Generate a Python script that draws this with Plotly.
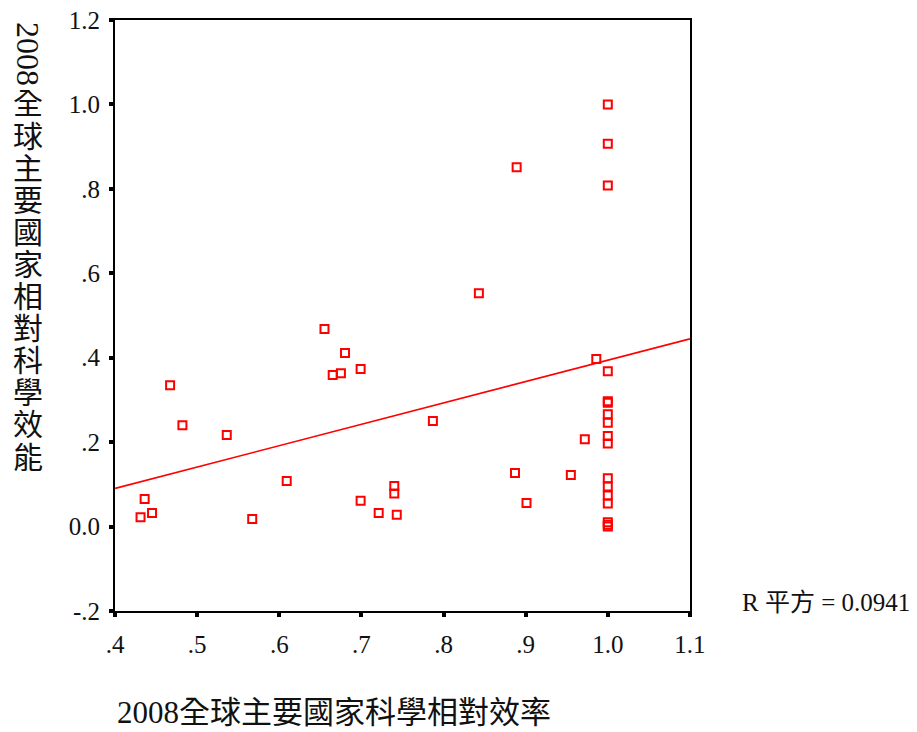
import plotly.graph_objects as go

# Relative science efficiency (x) vs. relative science effectiveness (y), 2008
efficiency = [
    0.431, 0.436, 0.445, 0.467, 0.482, 0.536, 0.567, 0.609, 0.655, 0.665,
    0.675, 0.680, 0.699, 0.699, 0.721, 0.740, 0.740, 0.743, 0.787, 0.843,
    0.887, 0.889, 0.901, 0.955, 0.972, 0.986,
    1.0, 1.0, 1.0, 1.0, 1.0, 1.0, 1.0, 1.0, 1.0, 1.0,
    1.0, 1.0, 1.0, 1.0, 1.0, 1.0, 1.0,
]
effectiveness = [
    0.022, 0.065, 0.032, 0.335, 0.240, 0.217, 0.018, 0.108, 0.468, 0.359,
    0.363, 0.411, 0.373, 0.061, 0.032, 0.096, 0.078, 0.028, 0.250, 0.553,
    0.127, 0.851, 0.056, 0.122, 0.207, 0.397,
    1.000, 0.907, 0.808, 0.368, 0.297, 0.293, 0.266, 0.246, 0.2145, 0.197,
    0.1145, 0.095, 0.0735, 0.0546, 0.010, 0.004, 0.000,
]

# Linear fit y = intercept + slope * x
fit_intercept = -0.112
fit_slope = 0.506
r_squared = 0.0941

x_ticks = [0.4, 0.5, 0.6, 0.7, 0.8, 0.9, 1.0, 1.1]
x_tick_text = [".4", ".5", ".6", ".7", ".8", ".9", "1.0", "1.1"]
y_ticks = [-0.2, 0.0, 0.2, 0.4, 0.6, 0.8, 1.0, 1.2]
y_tick_text = ["-.2", "0.0", ".2", ".4", ".6", ".8", "1.0", "1.2"]

x_title = "2008全球主要國家科學相對效率"
y_title_year = "2008"
y_title_words = "全球主要國家相對科學效能"

FONT = "Liberation Serif, Noto Sans CJK TC, serif"
RED = "#ff0000"
INK = "#111111"

W, H = 917, 732
L, R, T, B = 115, 227, 20, 121
PW, PH = W - L - R, H - T - B


def px_x(p):
    return (p - L) / PW


def px_y(p):
    return (H - B - p) / PH


fig = go.Figure()

fit_x = [x_ticks[0], x_ticks[-1]]
fit_y = [fit_intercept + fit_slope * v for v in fit_x]
fig.add_trace(go.Scatter(
    x=fit_x, y=fit_y, mode="lines",
    line=dict(color=RED, width=1.6),
    hoverinfo="skip", showlegend=False,
))

fig.add_trace(go.Scatter(
    x=efficiency, y=effectiveness, mode="markers",
    marker=dict(symbol="square-open", size=8, color=RED,
                line=dict(width=2, color=RED)),
    showlegend=False,
))

axis_common = dict(
    showgrid=False, zeroline=False, automargin=False,
    showline=True, linecolor="black", linewidth=2, mirror=True,
    ticks="outside", ticklen=4, tickwidth=4, tickcolor="black",
    tickfont=dict(family=FONT, size=25, color=INK),
)

fig.update_xaxes(range=[0.3999, 1.1001], tickmode="array",
                 tickvals=x_ticks, ticktext=x_tick_text,
                 ticklabelstandoff=6, **axis_common)
fig.update_yaxes(range=[-0.2001, 1.2001], tickmode="array",
                 tickvals=y_ticks, ticktext=y_tick_text,
                 ticklabelstandoff=4, **axis_common)

annotations = [
    dict(text=x_title, x=px_x(115), y=px_y(712), xanchor="left",
         yanchor="middle", font=dict(family=FONT, size=31, color=INK)),
    dict(text=f"R 平方 = {r_squared:.4f}", x=px_x(740), y=px_y(602),
         xanchor="left", yanchor="middle",
         font=dict(family=FONT, size=25, color=INK)),
    dict(text=y_title_year, x=px_x(28), y=px_y(54), textangle=90,
         xanchor="center", yanchor="middle",
         font=dict(family=FONT, size=32, color=INK)),
]
for i, ch in enumerate(y_title_words):
    annotations.append(dict(
        text=ch, x=px_x(28), y=px_y(104 + i * 32.1),
        xanchor="center", yanchor="middle",
        font=dict(family=FONT, size=30, color=INK),
    ))
for a in annotations:
    a.update(xref="paper", yref="paper", showarrow=False)

fig.update_layout(
    width=W, height=H,
    margin=dict(l=L, r=R, t=T, b=B, autoexpand=False),
    paper_bgcolor="white", plot_bgcolor="white",
    annotations=annotations,
)

fig.write_html("out.html")
